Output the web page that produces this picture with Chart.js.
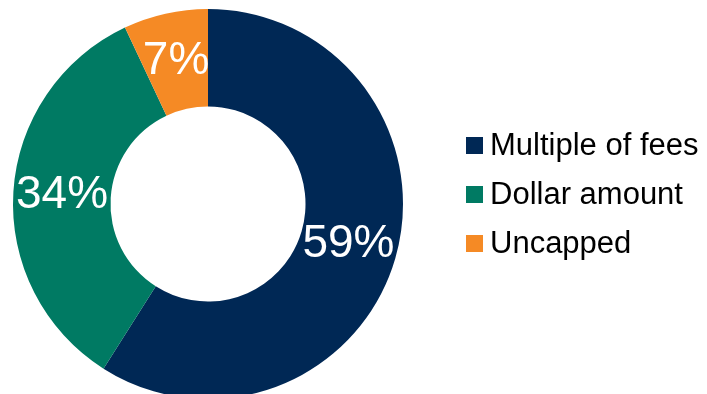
<!DOCTYPE html>
<html>
<head>
<meta charset="utf-8">
<script src="https://cdn.jsdelivr.net/npm/chart.js@4"></script>
<style>
  html, body { margin: 0; padding: 0; background: #fff; overflow: hidden; }
  #wrap { width: 707px; height: 410px; }
</style>
</head>
<body>
<div id="wrap"><canvas id="capChart"></canvas></div>
<script>
const categories = ['Multiple of fees', 'Dollar amount', 'Uncapped'];
const shares = [59, 34, 7];
const sliceColors = ['#002855', '#007A63', '#F58A25'];

// percent text inside each slice
const sliceLabels = {
  id: 'sliceLabels',
  afterDatasetsDraw(chart) {
    const ctx = chart.ctx;
    const meta = chart.getDatasetMeta(0);
    ctx.save();
    ctx.fillStyle = '#fff';
    ctx.font = '46px "Liberation Sans", Arial, sans-serif';
    ctx.textAlign = 'center';
    ctx.textBaseline = 'middle';
    meta.data.forEach((arc, i) => {
      const p = arc.tooltipPosition();
      ctx.fillText(shares[i] + '%', p.x, p.y);
    });
    ctx.restore();
  }
};

// legend on the right side
const sideLegend = {
  id: 'sideLegend',
  afterDraw(chart) {
    const ctx = chart.ctx;
    ctx.save();
    ctx.font = '31px "Liberation Sans", Arial, sans-serif';
    ctx.textBaseline = 'middle';
    ctx.textAlign = 'left';
    categories.forEach((name, i) => {
      const y = 145 + i * 49;
      ctx.fillStyle = sliceColors[i];
      ctx.fillRect(466, y - 8, 17, 17);
      ctx.fillStyle = '#000';
      ctx.fillText(name, 490, y + 1);
    });
    ctx.restore();
  }
};

new Chart(document.getElementById('capChart'), {
  type: 'doughnut',
  data: {
    labels: categories,
    datasets: [{
      data: shares,
      backgroundColor: sliceColors,
      borderWidth: 0
    }]
  },
  options: {
    responsive: true,
    maintainAspectRatio: false,
    animation: false,
    cutout: '50%',
    layout: { padding: { left: 13, right: 304, top: 9, bottom: 11 } },
    plugins: {
      legend: { display: false },
      tooltip: { enabled: false }
    }
  },
  plugins: [sliceLabels, sideLegend]
});
</script>
</body>
</html>
